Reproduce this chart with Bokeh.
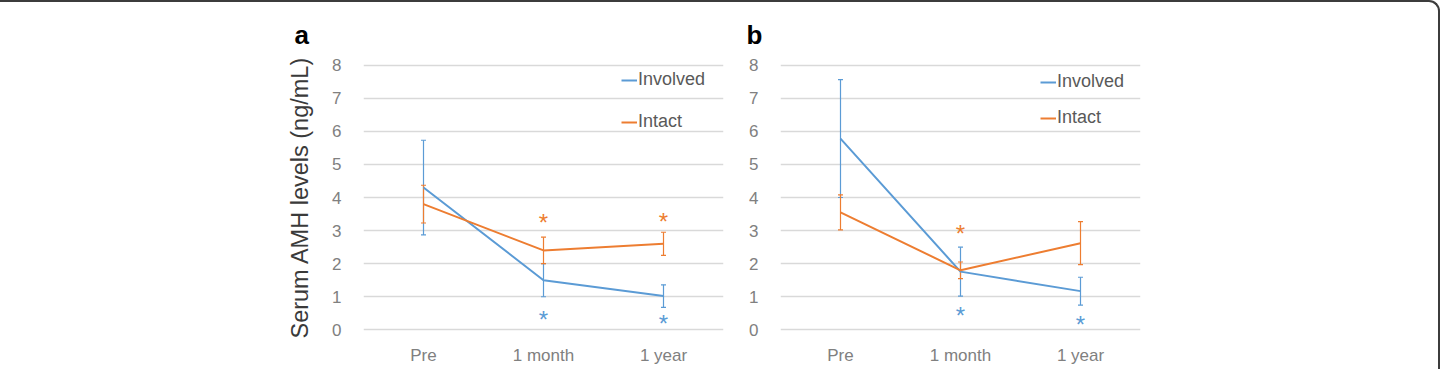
from bokeh.plotting import figure
from bokeh.models import (ColumnDataSource, Whisker, TeeHead, Legend, LegendItem,
                          Range1d, FactorRange, Spacer, Row)
from bokeh.core.properties import value
from bokeh.embed import file_html
from bokeh.resources import INLINE

# ---- data -------------------------------------------------------------
timepoints = ["Pre", "1 month", "1 year"]

a_involved_mean = [4.30, 1.50, 1.02]
a_involved_sd = [1.43, 0.50, 0.34]
a_intact_mean = [3.80, 2.40, 2.60]
a_intact_sd = [0.57, 0.40, 0.35]

b_involved_mean = [5.78, 1.76, 1.17]
b_involved_sd = [1.78, 0.74, 0.42]
b_intact_mean = [3.55, 1.80, 2.62]
b_intact_sd = [0.53, 0.25, 0.65]

# significance markers (*)
a_sig_intact_x = ["1 month", "1 year"]
a_sig_intact_y = [3.40, 3.42]
a_sig_involved_x = ["1 month", "1 year"]
a_sig_involved_y = [0.46, 0.33]

b_sig_intact_x = ["1 month"]
b_sig_intact_y = [3.06]
b_sig_involved_x = ["1 month", "1 year"]
b_sig_involved_y = [0.57, 0.31]

y_ticks = [0, 1, 2, 3, 4, 5, 6, 7, 8]

BLUE = "#5B9BD5"
ORANGE = "#ED7D31"
FONT = "Liberation Sans"


def panel(letter, inv_m, inv_sd, int_m, int_sd, sig_int, sig_inv,
          left_border, right_border, legend_xy, legend_spacing, title_offset,
          ylabel=None):
    p = figure(width=450, height=367, output_backend="svg", toolbar_location=None,
               x_range=FactorRange(*timepoints, range_padding=0),
               y_range=Range1d(-0.05, 8.05),
               min_border_left=left_border, min_border_right=right_border,
               min_border_top=61, min_border_bottom=38)
    p.outline_line_color = None
    p.background_fill_color = "white"
    p.border_fill_color = "white"

    p.title.text = letter
    p.title.text_font = FONT
    p.title.text_font_size = "26px"
    p.title.text_font_style = "bold"
    p.title.text_color = "black"
    p.title.align = "left"
    p.title.offset = title_offset
    p.title.standoff = 27

    p.xgrid.grid_line_color = None
    p.ygrid.grid_line_color = "#D9D9D9"
    p.ygrid.grid_line_width = 1.3
    p.yaxis.ticker = y_ticks

    for ax in (p.xaxis, p.yaxis):
        ax.axis_line_color = None
        ax.major_tick_line_color = None
        ax.minor_tick_line_color = None
        ax.major_tick_out = 0
        ax.major_tick_in = 0
        ax.major_label_text_font = FONT
        ax.major_label_text_font_size = "17px"
        ax.major_label_text_color = "#808080"
    p.yaxis.major_label_standoff = 22
    p.xaxis.major_label_standoff = 14

    if ylabel:
        p.yaxis.axis_label = ylabel
        p.yaxis.axis_label_text_font = FONT
        p.yaxis.axis_label_text_font_size = "23.5px"
        p.yaxis.axis_label_text_font_style = "normal"
        p.yaxis.axis_label_text_color = "#3A3A3A"
        p.yaxis.axis_label_standoff = 16

    src_inv = ColumnDataSource(dict(
        x=timepoints, y=inv_m,
        lo=[m - s for m, s in zip(inv_m, inv_sd)],
        hi=[m + s for m, s in zip(inv_m, inv_sd)]))
    src_int = ColumnDataSource(dict(
        x=timepoints, y=int_m,
        lo=[m - s for m, s in zip(int_m, int_sd)],
        hi=[m + s for m, s in zip(int_m, int_sd)]))

    for src, col in ((src_inv, BLUE), (src_int, ORANGE)):
        w = Whisker(base="x", lower="lo", upper="hi", source=src,
                    line_color=col, line_width=1.2,
                    upper_head=TeeHead(size=5, line_color=col, line_width=1.2),
                    lower_head=TeeHead(size=5, line_color=col, line_width=1.2))
        p.add_layout(w)

    r_inv = p.line("x", "y", source=src_inv, line_color=BLUE, line_width=2)
    r_int = p.line("x", "y", source=src_int, line_color=ORANGE, line_width=2)

    for (xs, ys), col in ((sig_int, ORANGE), (sig_inv, BLUE)):
        p.text(x=xs, y=ys, text=["*"] * len(xs), text_color=col,
               text_font=value(FONT), text_font_size="24px",
               text_align="center", text_baseline="middle", y_offset=5)

    legend = Legend(items=[LegendItem(label="Involved", renderers=[r_inv]),
                           LegendItem(label="Intact", renderers=[r_int])],
                    location=legend_xy, orientation="vertical",
                    glyph_width=16, glyph_height=20, label_height=20,
                    label_standoff=1, spacing=legend_spacing,
                    padding=0, margin=0, border_line_color=None,
                    background_fill_alpha=0,
                    label_text_font=FONT, label_text_font_size="18px",
                    label_text_color="#595959")
    p.add_layout(legend)
    return p


pa = panel("a", a_involved_mean, a_involved_sd, a_intact_mean, a_intact_sd,
           (a_sig_intact_x, a_sig_intact_y), (a_sig_involved_x, a_sig_involved_y),
           left_border=83, right_border=7, legend_xy=(258, 199), legend_spacing=21,
           title_offset=-69, ylabel="Serum AMH levels (ng/mL)")
pb = panel("b", b_involved_mean, b_involved_sd, b_intact_mean, b_intact_sd,
           (b_sig_intact_x, b_sig_intact_y), (b_sig_involved_x, b_sig_involved_y),
           left_border=50, right_border=40, legend_xy=(260, 203), legend_spacing=15,
           title_offset=-34)

layout = Row(children=[Spacer(width=280, height=367), pa, pb, Spacer(width=258, height=367)],
             width=1440, height=369,
             styles={"border-top": "2px solid #3C3C3C",
                     "border-right": "2px solid #3C3C3C",
                     "border-top-right-radius": "11px",
                     "box-sizing": "border-box",
                     "background-color": "white"})

open("out.html", "w").write(file_html(layout, INLINE))
